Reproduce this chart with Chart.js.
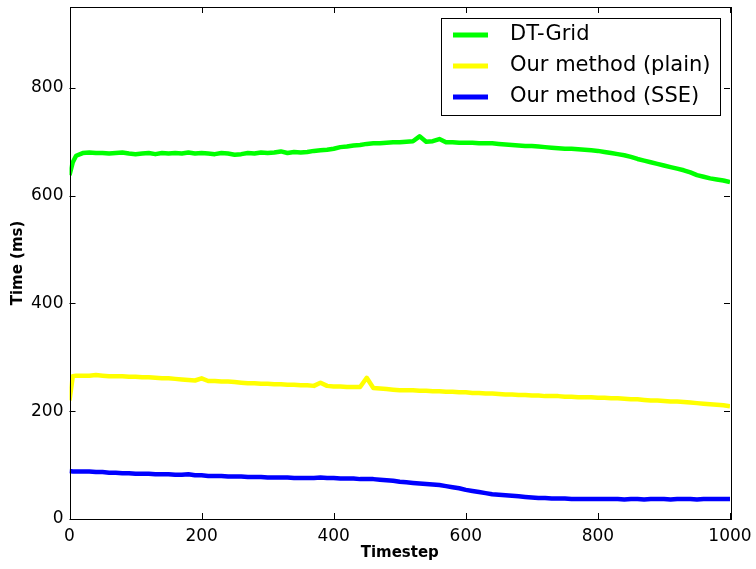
<!DOCTYPE html>
<html>
<head>
<meta charset="utf-8">
<script src="https://cdn.jsdelivr.net/npm/chart.js@4"></script>
<style>
  html, body { margin: 0; padding: 0; background: #fff; }
  canvas { display: block; }
</style>
</head>
<body>
<canvas id="chart" width="756" height="569"></canvas>
<script>
// timesteps shared by the three series
const timesteps = [0, 5, 10, 20, 30, 40, 50, 60, 70, 80, 90,
    100, 110, 120, 130, 140, 150, 160, 170, 180, 190,
    200, 210, 220, 230, 240, 250, 260, 270, 280, 290,
    300, 310, 320, 330, 340, 350, 360, 370, 380, 390,
    400, 410, 420, 430, 440, 450, 460, 470, 480, 490,
    500, 510, 520, 530, 540, 550, 560, 570, 580, 590,
    600, 610, 620, 630, 640, 650, 660, 670, 680, 690,
    700, 710, 720, 730, 740, 750, 760, 770, 780, 790,
    800, 810, 820, 830, 840, 850, 860, 870, 880, 890,
    900, 910, 920, 930, 940, 950, 960, 970, 980, 990, 1000];

// DT-Grid (ms)
const dtGrid = [638, 662, 674, 679, 680, 679, 679, 678, 679, 680, 678,
    677, 678, 679, 677, 679, 678, 679, 678, 680, 678,
    679, 678, 677, 679, 678, 676, 677, 679, 678, 680,
    679, 680, 682, 679, 681, 680, 681, 683, 684, 685,
    687, 690, 691, 693, 694, 696, 697, 697, 698, 699,
    699, 700, 701, 710, 700, 701, 705, 699, 699, 698,
    698, 698, 697, 697, 697, 696, 695, 694, 693, 692,
    692, 691, 690, 689, 688, 687, 687, 686, 685, 684,
    683, 681, 679, 677, 675, 672, 668, 665, 662, 659,
    656, 653, 650, 647, 643, 638, 635, 632, 630, 628, 625];

// Our method (plain)
const plain = [220, 265, 266, 266, 266, 267, 266, 265, 265, 265, 264,
    264, 263, 263, 262, 261, 261, 260, 259, 258, 257,
    261, 256, 256, 255, 255, 254, 253, 252, 252, 251,
    251, 250, 250, 249, 249, 248, 248, 247, 253, 247,
    246, 246, 245, 245, 245, 262, 243, 242, 241, 240,
    239, 239, 239, 238, 238, 237, 237, 236, 236, 235,
    235, 234, 234, 233, 233, 232, 231, 231, 230, 230,
    229, 229, 228, 228, 228, 227, 227, 226, 226, 226,
    225, 225, 224, 224, 223, 222, 222, 221, 220, 220,
    219, 218, 218, 217, 216, 215, 214, 213, 212, 211, 209];

// Our method (SSE)
const sse = [89, 88, 88, 88, 88, 87, 87, 86, 86, 85, 85,
    84, 84, 84, 83, 83, 83, 82, 82, 83, 81,
    81, 80, 80, 80, 79, 79, 79, 78, 78, 78,
    77, 77, 77, 77, 76, 76, 76, 76, 77, 76,
    76, 75, 75, 75, 74, 74, 74, 73, 72, 71,
    69, 68, 67, 66, 65, 64, 63, 61, 59, 57,
    54, 52, 50, 48, 46, 45, 44, 43, 42, 41,
    40, 39, 39, 38, 38, 38, 37, 37, 37, 37,
    37, 37, 37, 37, 36, 37, 37, 36, 37, 37,
    37, 36, 37, 37, 37, 36, 37, 37, 37, 37, 37];

const seriesNames = ['DT-Grid', 'Our method (plain)', 'Our method (SSE)'];
const seriesColors = ['#00ff00', '#ffff00', '#0000ff'];
const xTicks = [0, 200, 400, 600, 800, 1000];
const yTicks = [0, 200, 400, 600, 800];

const toPoints = (values) => values.map((v, i) => ({ x: timesteps[i], y: v }));

// 框線、內向刻度、圖例
const framePlugin = {
    id: 'frame',
    afterDatasetsDraw(chart) {
        const ctx = chart.ctx;
        const a = chart.chartArea;
        const sx = chart.scales.x;
        const sy = chart.scales.y;
        const len = 6;
        ctx.save();
        ctx.strokeStyle = '#000';
        ctx.lineWidth = 1;
        ctx.beginPath();
        xTicks.forEach(t => {
            const px = Math.round(sx.getPixelForValue(t)) + 0.5;
            ctx.moveTo(px, a.bottom); ctx.lineTo(px, a.bottom - len);
            ctx.moveTo(px, a.top); ctx.lineTo(px, a.top + len);
        });
        yTicks.forEach(t => {
            const py = Math.round(sy.getPixelForValue(t)) + 0.5;
            ctx.moveTo(a.left, py); ctx.lineTo(a.left + len, py);
            ctx.moveTo(a.right, py); ctx.lineTo(a.right - len, py);
        });
        ctx.stroke();
        ctx.strokeRect(Math.round(a.left) + 0.5, Math.round(a.top) + 0.5,
            Math.round(a.right - a.left), Math.round(a.bottom - a.top));

        // legend
        const bx = 441.5, by = 18.5, bw = 279, bh = 97;
        ctx.fillStyle = '#fff';
        ctx.fillRect(bx, by, bw, bh);
        ctx.strokeRect(bx, by, bw, bh);
        ctx.font = '21px "DejaVu Sans"';
        ctx.textBaseline = 'middle';
        ctx.textAlign = 'left';
        seriesNames.forEach((name, i) => {
            const y = 35 + i * 31;
            ctx.strokeStyle = seriesColors[i];
            ctx.lineWidth = 5;
            ctx.beginPath();
            ctx.moveTo(453, y); ctx.lineTo(488, y);
            ctx.stroke();
            ctx.fillStyle = '#000';
            ctx.fillText(name, 510, y);
        });
        ctx.restore();
    }
};

new Chart(document.querySelector('#chart'), {
    type: 'line',
    data: {
        datasets: seriesNames.map((name, i) => ({
            label: name,
            data: toPoints([dtGrid, plain, sse][i]),
            borderColor: seriesColors[i],
            backgroundColor: seriesColors[i],
            borderWidth: 4.5,
            pointRadius: 0,
            tension: 0,
            borderJoinStyle: 'round',
            fill: false
        }))
    },
    options: {
        responsive: false,
        animation: false,
        layout: { padding: { top: 7, right: 26, bottom: 0, left: 0 } },
        plugins: {
            legend: { display: false },
            tooltip: { enabled: false }
        },
        scales: {
            x: {
                type: 'linear',
                min: 0,
                max: 1000,
                afterFit: (s) => { s.height = 50; s.paddingLeft = 0; s.paddingRight = 0; },
                afterBuildTicks: (s) => { s.ticks = xTicks.map(v => ({ value: v })); },
                grid: { display: false, drawTicks: false },
                border: { display: false },
                ticks: { color: '#000', padding: 7, maxRotation: 0, callback: (v) => String(v),
                    font: { family: 'DejaVu Sans', size: 17 } },
                title: { display: true, text: 'Timestep', color: '#000', padding: { top: 0, bottom: 7 },
                    font: { family: 'DejaVu Sans', size: 15, weight: 'bold' } }
            },
            y: {
                min: 0,
                max: 950,
                afterFit: (s) => { s.width = 69.5; s.paddingTop = 0; s.paddingBottom = 0; },
                afterBuildTicks: (s) => { s.ticks = yTicks.map(v => ({ value: v })); },
                grid: { display: false, drawTicks: false },
                border: { display: false },
                ticks: { color: '#000', padding: 6, callback: (v) => String(v),
                    font: { family: 'DejaVu Sans', size: 17 } },
                title: { display: true, text: 'Time (ms)', color: '#000', padding: { top: 9, bottom: 0 },
                    font: { family: 'DejaVu Sans', size: 15, weight: 'bold' } }
            }
        }
    },
    plugins: [framePlugin]
});
</script>
</body>
</html>
